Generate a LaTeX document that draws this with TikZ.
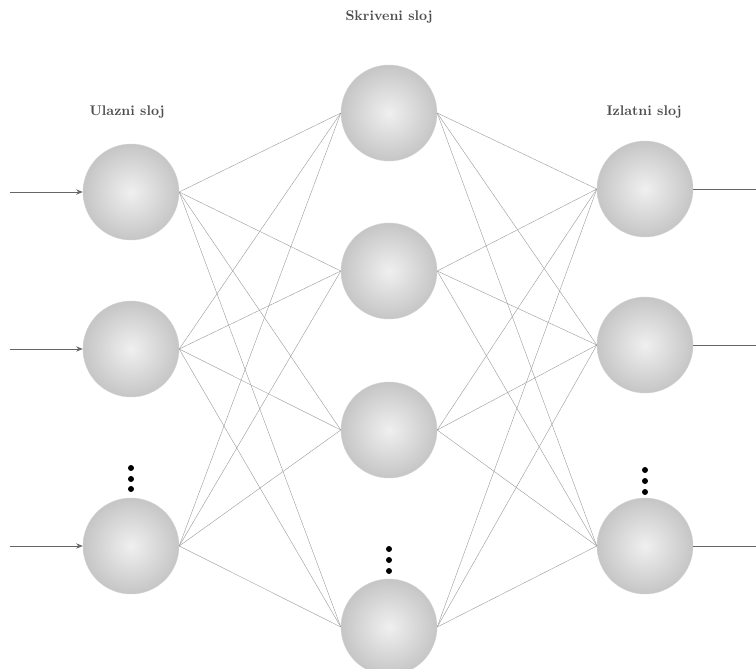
\documentclass[tikz,border=0pt]{standalone}
\usetikzlibrary{arrows.meta}
\begin{document}
\begin{tikzpicture}[x=0.75pt,y=-0.75pt,
  neuron/.style={circle,minimum size=96*0.75pt,inner sep=0pt,
    inner color=gray!12,outer color=gray!45,draw=gray!35,line width=0.3pt},
  link/.style={draw=gray!80,line width=0.3pt},
  io/.style={draw=gray!80!black,line width=0.6pt},
  layer/.style={font=\bfseries\fontsize{10.5}{12}\selectfont,text=black!70},
  dot/.style={circle,fill=black,inner sep=0pt,minimum size=4.5pt}]
\useasboundingbox (0,0) rectangle (756,668);

% layer titles
\node[layer] (tin)  at (127,112) {Ulazni sloj};
\node[layer] (thid) at (389,17)  {Skriveni sloj};
\node[layer] (tout) at (644,112) {Izlatni sloj};

% input layer
\node[neuron] (i1) at (131,192) {};
\node[neuron] (i2) at (131,349) {};
\node[neuron] (i3) at (131,546) {};

% hidden layer
\node[neuron] (h1) at (389,113) {};
\node[neuron] (h2) at (389,271) {};
\node[neuron] (h3) at (389,430) {};
\node[neuron] (h4) at (389,627) {};

% output layer
\node[neuron] (o1) at (645,189) {};
\node[neuron] (o2) at (645,345) {};
\node[neuron] (o3) at (645,546) {};

% full connections input -> hidden -> output
\foreach \i in {1,2,3}
  \foreach \h in {1,2,3,4}
    \draw[link] (i\i.east) -- (h\h.west);
\foreach \h in {1,2,3,4}
  \foreach \o in {1,2,3}
    \draw[link] (h\h.east) -- (o\o.west);

% inputs and outputs
\coordinate (a1) at (10,192);
\coordinate (a2) at (10,349);
\coordinate (a3) at (10,546);
\foreach \k in {1,2,3} {
  \draw[io,-{Stealth[length=5pt,width=4pt]}] (a\k) -- (i\k.west);
  \draw[io] (o\k.east) -- (o\k.east -| 756,0);
}

% ellipsis dots
\foreach \y in {468,479,489} \node[dot] at (131,\y) {};
\foreach \y in {549,560,571} \node[dot] at (389,\y) {};
\foreach \y in {470,481,492} \node[dot] at (645,\y) {};
\end{tikzpicture}
\end{document}
